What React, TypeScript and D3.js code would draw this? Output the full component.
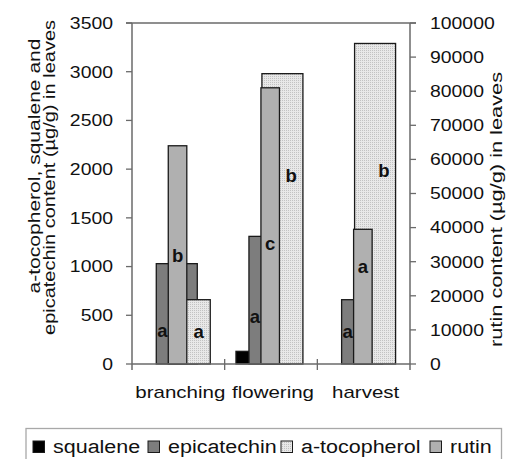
import React from "react";
import * as d3 from "d3";

// ---- data ----
const categories = ["branching", "flowering", "harvest"];
const squalene = [0, 130, 0];
const epicatechin = [1030, 1310, 660];
const aTocopherol = [660, 2980, 3290];
const rutin = [64000, 81000, 39500];

const leftTicks = [0, 500, 1000, 1500, 2000, 2500, 3000, 3500];
const rightTicks = [0, 10000, 20000, 30000, 40000, 50000, 60000, 70000, 80000, 90000, 100000];

const epiLetters = ["a", "a", "a"];
const epiLetterAt = [274, 424, 264];
const atocLetters = ["a", "b", "b"];
const atocLetterAt = [264, 1871, 1922];
const rutinLetters = ["b", "c", "a"];
const rutinLetterAt = [30000, 33430, 26600];

const seriesNames = ["squalene", "epicatechin", "a-tocopherol", "rutin"];
const leftTitle = ["a-tocopherol, squalene and", "epicatechin content (µg/g) in leaves"];
const rightTitle = "rutin content (µg/g) in leaves";

// ---- layout ----
const W = 507, H = 459;
const L = 132, R = 410, T = 23, B = 364;
const SY = 0.84;
const FONT = "'Liberation Sans', Arial, sans-serif";
const AX = "#6a6a6a";
const C_EPI = "#7d7d7d";
const C_RUT = "#b0b0b0";
const legendX = [33, 148, 281, 430];

function Txt(props: any) {
  const { x, y, rot = 0, size, anchor = "start", sy = SY, children, len, weight } = props;
  return (
    <text
      transform={`translate(${x},${y}) rotate(${rot}) scale(1,${sy})`}
      fontSize={size}
      fontFamily={FONT}
      textAnchor={anchor}
      fill="#111"
      fontWeight={weight}
      textLength={len}
      lengthAdjust={len ? "spacingAndGlyphs" : undefined}
    >
      {children}
    </text>
  );
}

export default function App() {
  const x = d3.scaleBand<string>().domain(categories).range([L, R]).padding(0);
  const yL = d3.scaleLinear().domain([0, 3500]).range([B, T]);
  const yR = d3.scaleLinear().domain([0, 100000]).range([B, T]);
  const bw = x.bandwidth();
  const barW = bw * 0.4425;
  const step = bw * 0.14;
  const first = -bw * 0.378;
  const rW = bw * 0.2;
  const rOff = -0.8;
  const center = (c: string) => (x(c) as number) + bw / 2;
  const primary = [squalene, epicatechin, aTocopherol];
  const fills = ["#000", C_EPI, "url(#dots)"];

  return (
    <svg width={W} height={H} style={{ position: "absolute", left: 0, top: 0, background: "#fff" }}>
      <defs>
        <pattern id="dots" width="2" height="2" patternUnits="userSpaceOnUse">
          <rect width="2" height="2" fill="#e8e8e8" />
          <rect width="1" height="1" fill="#c2c2c2" />
        </pattern>
      </defs>
      <rect width={W} height={H} fill="#fff" />

      {/* primary bars */}
      {primary.map((vals, si) =>
        categories.map((c, i) => {
          const v = vals[i];
          if (!v) return null;
          const x0 = center(c) + first + si * step;
          return (
            <rect key={`p${si}-${i}`} x={x0} y={yL(v)} width={barW} height={B - yL(v)}
              fill={fills[si]} stroke="#1a1a1a" strokeWidth={1.3} />
          );
        })
      )}
      {/* rutin bars (secondary axis) */}
      {categories.map((c, i) => (
        <rect key={`r${i}`} x={center(c) + rOff - rW / 2} y={yR(rutin[i])} width={rW}
          height={B - yR(rutin[i])} fill={C_RUT} stroke="#1a1a1a" strokeWidth={1.3} />
      ))}

      {/* letters */}
      {categories.map((c, i) => {
        const cx = center(c);
        const epiStart = cx + first + step;
        const rStart = cx + rOff - rW / 2;
        const rEnd = cx + rOff + rW / 2;
        const atEnd = cx + first + 2 * step + barW;
        return (
          <g key={`l${i}`}>
            <Txt x={(epiStart + rStart) / 2} y={yL(epiLetterAt[i])} size={18.5} anchor="middle" sy={1} weight="bold">{epiLetters[i]}</Txt>
            <Txt x={(rEnd + atEnd) / 2} y={yL(atocLetterAt[i])} size={18.5} anchor="middle" sy={1} weight="bold">{atocLetters[i]}</Txt>
            <Txt x={cx + rOff} y={yR(rutinLetterAt[i])} size={18.5} anchor="middle" sy={1} weight="bold">{rutinLetters[i]}</Txt>
          </g>
        );
      })}

      {/* axes frame */}
      <line x1={L - 6} x2={R + 6} y1={T} y2={T} stroke={AX} strokeWidth={1.5} />
      <line x1={L} x2={R} y1={B} y2={B} stroke={AX} strokeWidth={1.5} />
      <line x1={L} x2={L} y1={T} y2={B + 6} stroke={AX} strokeWidth={1.5} />
      <line x1={R} x2={R} y1={T} y2={B + 6} stroke={AX} strokeWidth={1.5} />
      {leftTicks.map((t) => (
        <g key={`lt${t}`}>
          <line x1={L - 6} x2={L} y1={yL(t)} y2={yL(t)} stroke={AX} strokeWidth={1.3} />
          <Txt x={113} y={yL(t) + 5.8} size={19.4} anchor="end">{t}</Txt>
        </g>
      ))}
      {rightTicks.map((t) => (
        <g key={`rt${t}`}>
          <line x1={R} x2={R + 6} y1={yR(t)} y2={yR(t)} stroke={AX} strokeWidth={1.3} />
          <Txt x={430} y={yR(t) + 5.8} size={19.4} anchor="start">{t}</Txt>
        </g>
      ))}
      {categories.slice(1).map((c) => (
        <line key={`ct${c}`} x1={x(c) as number} x2={x(c) as number} y1={B - 5} y2={B + 6} stroke={AX} strokeWidth={1.3} />
      ))}
      {categories.map((c) => (
        <Txt key={`cl${c}`} x={center(c) + 2} y={398.3} size={20.5} anchor="middle">{c}</Txt>
      ))}

      {/* axis titles */}
      <Txt x={39.5} y={166} rot={-90} size={20.5} anchor="middle" sy={0.76} len={255}>{leftTitle[0]}</Txt>
      <Txt x={54.5} y={177.5} rot={-90} size={20.5} anchor="middle" sy={0.76} len={315}>{leftTitle[1]}</Txt>
      <Txt x={502} y={209.5} rot={-90} size={20.5} anchor="middle" sy={0.76} len={275}>{rightTitle}</Txt>

      {/* legend */}
      <rect x={26} y={428.5} width={475.5} height={40} fill="#fff" stroke="#a8a8a8" strokeWidth={1.3} />
      {seriesNames.map((n, i) => (
        <g key={`lg${n}`}>
          <rect x={legendX[i]} y={441} width={11.5} height={11.5}
            fill={i === 0 ? "#000" : i === 1 ? C_EPI : i === 2 ? "url(#dots)" : C_RUT}
            stroke="#1a1a1a" strokeWidth={1} />
          <Txt x={legendX[i] + 20} y={453.3} size={21.5} anchor="start">{n}</Txt>
        </g>
      ))}
    </svg>
  );
}
